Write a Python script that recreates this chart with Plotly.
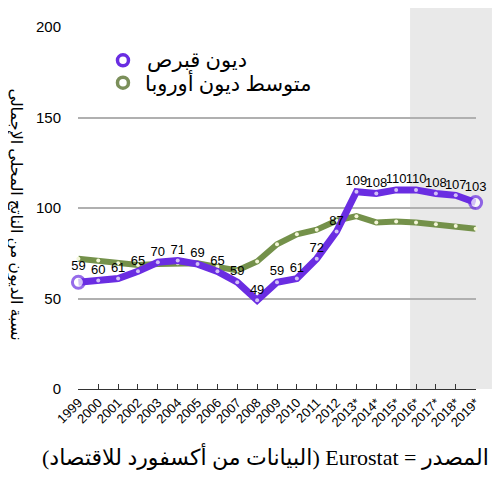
import plotly.graph_objects as go

years = ["1999", "2000", "2001", "2002", "2003", "2004", "2005", "2006", "2007", "2008",
         "2009", "2010", "2011", "2012", "2013*", "2014*", "2015*", "2016*", "2017*", "2018*", "2019*"]
cyprus = [59, 60, 61, 65, 70, 71, 69, 65, 59, 49, 59, 61, 72, 87, 109, 108, 110, 110, 108, 107, 103]
europe = [72, 71, 69.5, 68.5, 69, 69.5, 69.5, 67.5, 65.5, 70.5, 80, 85.5, 88, 93, 95.5, 92, 92.5, 92, 91, 90, 88.5]
forecast_start = 16.7  # shaded forecast region start (x index)

name_cy = "ديون قبرص"
name_eu = "متوسط ديون أوروبا"
y_title = "نسبة الديون من الناتج المحلي الإجمالي"
source_parts = ["المصدر", "=", "Eurostat", "(البيانات من أكسفورد للاقتصاد)"]
# order the parts so the browser lays them out as in the picture
source = source_parts[3] + " " + source_parts[2] + " " + source_parts[1] + " " + source_parts[0]

PURPLE = "#6a2de2"
GREEN = "#74914a"
GREEN_LEG = "#7b8f5a"
AR_FONT = "Liberation Serif, DejaVu Sans"
xs = list(range(len(years)))
n = len(years)
XR = [-0.02, 20.02]

fig = go.Figure()
fig.add_trace(go.Scatter(
    x=xs, y=europe, mode="lines+markers", showlegend=False,
    line=dict(color=GREEN, width=6),
    marker=dict(size=4, color="#f4f6d8"),
    hoverinfo="skip", cliponaxis=False))
fig.add_trace(go.Scatter(
    x=xs, y=cyprus, mode="lines+markers+text", showlegend=False,
    line=dict(color=PURPLE, width=7),
    marker=dict(size=[12] + [4] * (n - 2) + [12], color="white",
                line=dict(color=PURPLE, width=[3] + [0] * (n - 2) + [3])),
    text=[str(v) for v in cyprus], textposition="top center",
    textfont=dict(family="Liberation Sans, Arial", size=13, color="black"),
    hoverinfo="skip", cliponaxis=False))

# forecast shading
fig.add_shape(type="rect", xref="paper", yref="paper",
              x0=(forecast_start - XR[0]) / (XR[1] - XR[0]), x1=1.04, y0=0, y1=1.08,
              fillcolor="#e9e9e9", line=dict(width=0), layer="below")

# manual legend
legend_items = [(name_cy, PURPLE, 0.113, 0.908, 0.168), (name_eu, GREEN_LEG, 0.113, 0.846, 0.163)]
for name, col, cx, cy, tx in legend_items:
    fig.add_shape(type="circle", xref="paper", yref="paper", xsizemode="pixel", ysizemode="pixel",
                  xanchor=cx, yanchor=cy, x0=-5.5, x1=5.5, y0=-5.5, y1=5.5,
                  line=dict(color=col, width=3.5), fillcolor="white")
    fig.add_annotation(text=name, xref="paper", yref="paper", x=tx, y=cy,
                       xanchor="left", yanchor="middle", showarrow=False,
                       font=dict(family=AR_FONT, size=21, color="black"))

fig.add_annotation(text=y_title, xref="paper", yref="paper",
                   x=-0.158, y=0.482, textangle=90, showarrow=False,
                   xanchor="center", yanchor="middle",
                   font=dict(family=AR_FONT, size=16, color="black"))
fig.add_annotation(text=source, xref="paper", yref="paper",
                   x=0.47, y=-0.186, showarrow=False, xanchor="center", yanchor="middle",
                   font=dict(family=AR_FONT, size=22, color="black"))

fig.update_layout(
    width=500, height=484,
    margin=dict(l=70, r=32, t=10, b=103),
    paper_bgcolor="white", plot_bgcolor="rgba(0,0,0,0)",
    showlegend=False,
    xaxis=dict(range=XR, tickmode="array", tickvals=xs, ticktext=years,
               tickangle=-45, ticks="inside", ticklen=5, tickcolor="#333",
               showline=True, linecolor="#333", linewidth=1, showgrid=False, zeroline=False,
               tickfont=dict(family="Liberation Sans, Arial", size=13, color="black")),
    yaxis=dict(range=[0, 200], tickvals=[0, 50, 100, 150, 200], showgrid=True,
               gridcolor="#b0b0b0", gridwidth=1.5, zeroline=False, showline=False,
               ticks="", ticklabelstandoff=16,
               tickfont=dict(family="Liberation Sans, Arial", size=15, color="black")),
)

fig.write_html("out.html")
